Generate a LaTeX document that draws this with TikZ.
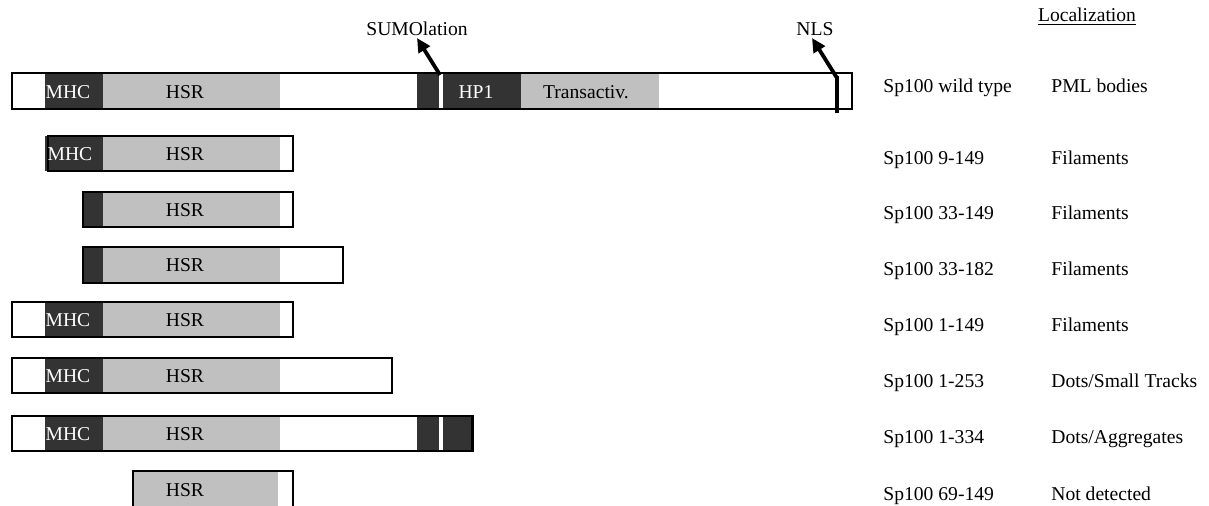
\documentclass[tikz,border=0pt]{standalone}
\usepackage{fontspec}
\setmainfont{Liberation Serif}
\usetikzlibrary{arrows.meta}
\definecolor{domdark}{HTML}{333333}
\definecolor{domgrey}{HTML}{C0C0C0}

\begin{document}
\begin{tikzpicture}[x=0.5pt, y=-0.5pt, >={Triangle[length=7pt, width=6.5pt]},
    every node/.style={font=\fontsize{9.8}{12}\selectfont, inner sep=0pt},
    dark/.style={fill=domdark}, grey/.style={fill=domgrey},
    frame/.style={draw=black, line width=0.8pt},
    site/.style={line width=1.9pt, black},
    lbl/.style={anchor=base west}]
    \useasboundingbox (0,0) rectangle (1209,506);
    % wild type
    \fill[dark] (45,73) rectangle (103,109);
    \fill[grey] (103,73) rectangle (280,109);
    \fill[dark] (417,73) rectangle (439,109);
    \fill[dark] (443,73) rectangle (521,109);
    \fill[grey] (521,73) rectangle (659,109);
    \draw[frame] (12,73) rectangle (852,109);
    \draw[white, line width=1.5pt] (441,74) -- (441,108);
    \draw[line width=1.9pt] (837,76) -- (837,113);
    \node[white] (wtmhc) at (68,92) {MHC};
    \node (wthsr) at (185,92) {HSR};
    \node[white] (wthp) at (476,92) {HP1};
    \node (wttra) at (586,92) {Transactiv.};
    \coordinate (sumosite) at (440,75);
    \coordinate (sumotip) at (417,38);
    \coordinate (nlssite) at (837,78);
    \coordinate (nlstip) at (812,38);
    \draw[->, site] (sumosite) -- (sumotip);
    \draw[->, site] (nlssite) -- (nlstip);
    \node (sumo) at (417,29) {SUMOlation};
    \node (nls) at (815,29) {NLS};
    \node (loc) at (1087,17) {\underline{Localization}};
    % 9-149
    \fill[dark] (45,136) rectangle (103,171);
    \fill[grey] (103,136) rectangle (280,171);
    \draw[frame] (48,136) rectangle (293,171);
    \node[white] (mhca) at (70,154) {MHC};
    \node (hsra) at (185,154) {HSR};
    % 33-149
    \fill[dark] (83,192) rectangle (103,227);
    \fill[grey] (103,192) rectangle (280,227);
    \draw[frame] (83,192) rectangle (293,227);
    \node (hsrb) at (185,210) {HSR};
    % 33-182
    \fill[dark] (83,247) rectangle (103,283);
    \fill[grey] (103,247) rectangle (280,283);
    \draw[frame] (83,247) rectangle (343,283);
    \node (hsrc) at (185,265) {HSR};
    % 1-149
    \fill[dark] (45,302) rectangle (103,338);
    \fill[grey] (103,302) rectangle (280,337);
    \draw[frame] (12,302) rectangle (293,337);
    \node[white] (mhcd) at (68,320) {MHC};
    \node (hsrd) at (185,320) {HSR};
    % 1-253
    \fill[dark] (45,358) rectangle (103,394);
    \fill[grey] (103,358) rectangle (280,393);
    \draw[frame] (12,358) rectangle (392,393);
    \node[white] (mhce) at (68,376) {MHC};
    \node (hsre) at (185,376) {HSR};
    % 1-334
    \fill[dark] (45,416) rectangle (103,451);
    \fill[grey] (103,416) rectangle (280,451);
    \fill[dark] (417,416) rectangle (439,451);
    \fill[dark] (443,416) rectangle (472,451);
    \draw[frame] (12,416) rectangle (473,451);
    \draw[line width=1.2pt] (472,416) -- (472,451);
    \node[white] (mhcf) at (68,434) {MHC};
    \node (hsrf) at (185,434) {HSR};
    % 69-149
    \fill[grey] (133,471) rectangle (278,507);
    \draw[frame] (133,507) -- (133,471) -- (293,471) -- (293,507);
    \node (hsrg) at (185,490) {HSR};
    % names and localization
    \foreach \nm/\y/\nme/\where in {wt/93/Sp100 wild type/PML bodies,
        a/165/Sp100 9-149/Filaments, b/220/Sp100 33-149/Filaments,
        c/276/Sp100 33-182/Filaments, d/332/Sp100 1-149/Filaments,
        e/388/Sp100 1-253/{Dots/Small Tracks}, f/444/Sp100 1-334/{Dots/Aggregates},
        g/501/Sp100 69-149/Not detected} {
        \node[lbl] (name\nm) at (883,\y) {\nme};
        \node[lbl] (loc\nm) at (1051,\y) {\where};
    }
\end{tikzpicture}
\end{document}
